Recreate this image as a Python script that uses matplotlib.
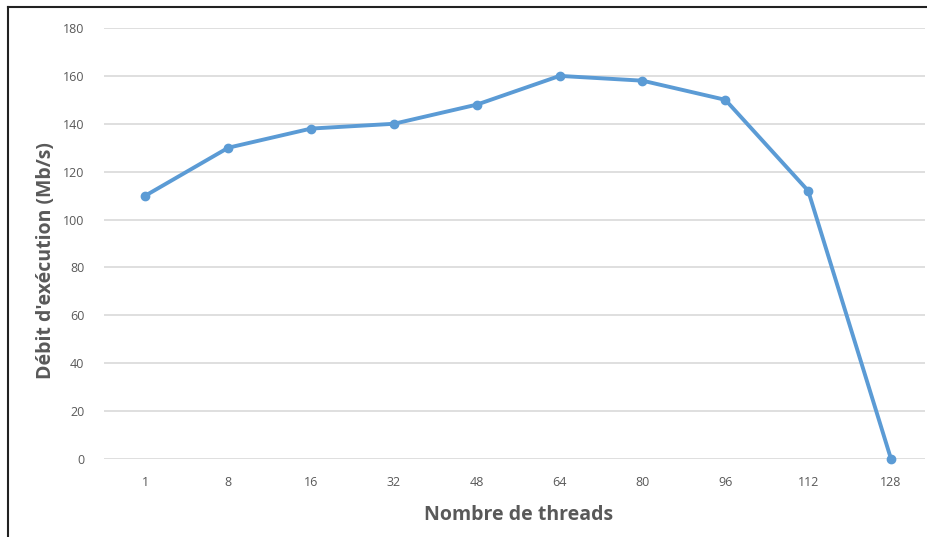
import matplotlib
matplotlib.use("Agg")
import matplotlib.pyplot as plt
from matplotlib.lines import Line2D

threads = ["1", "8", "16", "32", "48", "64", "80", "96", "112", "128"]
debit = [110, 130, 138, 140, 148, 160, 158, 150, 112, 0]
yticks = [0, 20, 40, 60, 80, 100, 120, 140, 160, 180]

plt.rcParams['font.family'] = ['Open Sans', 'DejaVu Sans']

W, H = 928, 537
fig = plt.figure(figsize=(W / 100, H / 100), dpi=100)
ax = fig.add_axes([104 / W, 1 - 459 / H, (925 - 104) / W, (459 - 28) / H])

x = list(range(len(threads)))
ax.plot(x, debit, color="#5B9BD5", linewidth=2.8, marker="o", markersize=6,
        solid_joinstyle="round", zorder=3, clip_on=False)

ax.set_xlim(-0.5, 9.41)
ax.set_ylim(0, 180)
ax.set_yticks(yticks)
ax.set_xticks(x)
ax.set_xticklabels(threads)
ax.grid(axis="y", color="#D9D9D9", linewidth=1.2)
ax.set_axisbelow(True)
for s in ax.spines.values():
    s.set_visible(False)
ax.tick_params(length=0, labelsize=9, colors="#595959", pad=12)
ax.tick_params(axis="y", pad=14)

ax.set_xlabel("Nombre de threads", fontsize=14, fontweight="bold", color="#595959")
ax.xaxis.set_label_coords(0.505, -46 / 431)
ax.set_ylabel("Débit d'exécution (Mb/s)", fontsize=14, fontweight="bold", color="#595959")
ax.yaxis.set_label_coords(-48 / 821, 0.46)

# outer frame
fig.add_artist(Line2D([7.5 / W, 7.5 / W], [0, 1 - 6.5 / H], transform=fig.transFigure,
                      color="#222222", linewidth=1.5))
fig.add_artist(Line2D([7.5 / W, 1], [1 - 6.5 / H, 1 - 6.5 / H], transform=fig.transFigure,
                      color="#222222", linewidth=1.5))

fig.savefig("out.png", dpi=100)
